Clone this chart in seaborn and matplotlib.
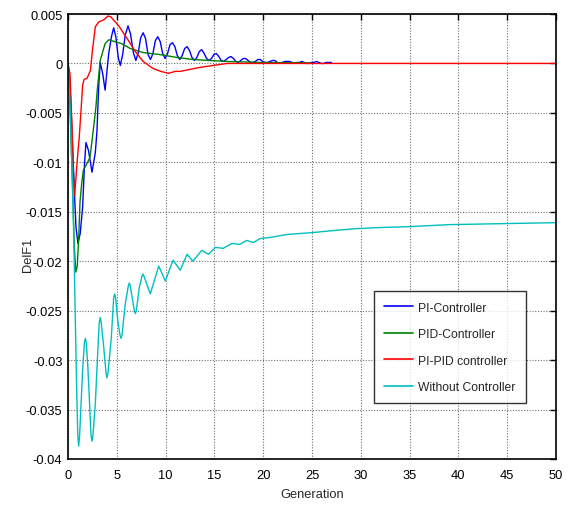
import matplotlib
matplotlib.use("Agg")
import matplotlib.pyplot as plt
import matplotlib.ticker as mticker
import seaborn as sns
import pandas as pd

# PI-Controller response
pi_x = [0, 0.2, 0.4, 0.68, 0.82, 1.02, 1.25, 1.5, 1.7, 1.84, 2.1, 2.46, 2.8, 2.97,
        3.14, 3.3, 3.55, 3.8, 4.17, 4.45, 4.68, 4.9, 5.15, 5.36, 5.6, 5.87, 6.15, 6.4,
        6.7, 6.95, 7.2, 7.45, 7.7, 7.95, 8.2, 8.45, 8.7, 8.95, 9.2, 9.45,
        9.7, 9.95, 10.2, 10.45, 10.7, 10.95, 11.2, 11.45, 11.7, 11.95, 12.2, 12.45,
        12.7, 12.95, 13.2, 13.45, 13.7, 13.95, 14.2, 14.45, 14.7, 14.95, 15.2, 15.45,
        15.7, 15.95, 16.2, 16.45, 16.7, 16.95, 17.2, 17.45, 17.7, 17.95, 18.2, 18.45,
        18.7, 18.95, 19.2, 19.45, 19.7, 19.95, 20.2, 20.45, 20.7, 20.95, 21.2, 21.45,
        21.7, 21.95, 22.2, 22.45, 22.7, 22.95, 23.2, 23.45, 23.7, 23.95, 24.2, 24.45,
        24.7, 24.95, 25.2, 25.45, 25.7, 25.95, 26.2, 26.45, 26.7, 27.0]
pi_y = [0, -0.002, -0.0068, -0.0135, -0.0166, -0.0182, -0.0172, -0.0145, -0.010, -0.008, -0.0088, -0.011, -0.009, -0.0068,
        -0.0024, 0.0001, -0.001, -0.0027, 0.001, 0.0027, 0.0036, 0.0027, 0.0006, -0.0002, 0.0009, 0.0029, 0.0038, 0.0030,
        0.0011, 0.0003, 0.0011, 0.0026, 0.0031, 0.0025, 0.0009, 0.0004, 0.0010, 0.0023, 0.0027, 0.0022,
        0.0010, 0.0005, 0.0010, 0.0019, 0.0021, 0.0017, 0.0008, 0.0004, 0.0008, 0.0015, 0.0017, 0.0013,
        0.0006, 0.0003, 0.0006, 0.0012, 0.0014, 0.0010, 0.0005, 0.0003, 0.0005, 0.0009, 0.0010, 0.0007,
        0.0003, 0.0002, 0.0004, 0.0006, 0.0007, 0.0005, 0.0002, 0.0001, 0.0003, 0.0005, 0.0005, 0.0003,
        0.0001, 0.0001, 0.0002, 0.0004, 0.0004, 0.0002, 0.0001, 0.0001, 0.0002, 0.0003, 0.0003, 0.0001,
        0.0, 0.0001, 0.0002, 0.0002, 0.0002, 0.0001, 0.0, 0.0001, 0.0001, 0.0002, 0.0001, 0.0,
        0.0, 0.0001, 0.0001, 0.0002, 0.0001, 0.0, 0.0, 0.0001, 0.0001, 0.0001]

# PID-Controller response
pid_x = [0, 0.2, 0.45, 0.65, 0.8, 0.95, 1.1, 1.23, 1.4, 1.57, 1.9, 2.25, 2.5, 2.7, 2.85, 3.0,
         3.3, 3.8, 4.2, 4.8, 5.5, 6.4, 7.7, 9.4, 11.2, 12.8, 14.5, 16.3, 18.0, 19.7, 22.0, 24.8]
pid_y = [0, -0.004, -0.012, -0.0186, -0.0211, -0.0205, -0.0175, -0.0140, -0.0122, -0.0108, -0.0102, -0.0095, -0.0075, -0.0058, -0.0045, -0.0027,
         0.0003, 0.0020, 0.0024, 0.0022, 0.0020, 0.0015, 0.0011, 0.0009, 0.0006, 0.0004, 0.0003, 0.0002, 0.00015, 0.0001, 0.00008, 0.00005]

# PI-PID controller response
pipid_x = [0, 0.2, 0.4, 0.55, 0.68, 0.92, 1.15, 1.35, 1.5, 1.65, 1.95, 2.3, 2.5, 2.8, 3.15,
           3.65, 4.1, 4.4, 5.2, 6.2, 6.9, 7.7, 8.7, 9.5, 10.3, 11.0, 11.5, 12.5, 13.5, 14.9, 16.3, 50]
pipid_y = [0, -0.001, -0.006, -0.011, -0.0134, -0.0101, -0.0075, -0.0045, -0.0022, -0.0016, -0.0015, -0.0007, 0.0013, 0.0037, 0.0042,
           0.0044, 0.0048, 0.0047, 0.0038, 0.0023, 0.0012, 0.0002, -0.0005, -0.0008, -0.0010, -0.0008, -0.0008, -0.0006, -0.0004, -0.0002, 0.0, 0.0]

# Response without controller
none_x = [0, 0.2, 0.45, 0.6, 0.75, 0.92, 1.0, 1.09, 1.18, 1.5, 1.68, 1.78, 1.88, 2.05, 2.36, 2.46, 2.56, 2.8, 3.07,
          3.2, 3.3, 3.4, 3.66, 3.9, 4.0, 4.1, 4.44, 4.68, 4.78, 4.88, 5.1, 5.33, 5.43, 5.53, 5.87, 6.18, 6.28, 6.38,
          6.63, 6.8, 6.9, 7.0, 7.3, 7.58, 7.68, 7.78,
          8.43, 9.3, 9.97, 10.76, 11.5, 12.2, 12.8, 13.7, 14.4, 15.1, 15.9, 16.8,
          17.6, 18.3, 19.0, 19.7, 20.7, 22.4, 25.1, 27.2, 29.6, 31.8, 35.0, 39.1, 44.5, 50.0]
none_y = [0, -0.004, -0.012, -0.018, -0.026, -0.0344, -0.0375, -0.0387, -0.0378, -0.031, -0.0282, -0.0278, -0.0283, -0.031, -0.0376, -0.0382, -0.0376, -0.0344, -0.0287,
          -0.0262, -0.0257, -0.0262, -0.0287, -0.0313, -0.0318, -0.0313, -0.0277, -0.0237, -0.0233, -0.0237, -0.026, -0.0275, -0.0278, -0.0275, -0.0243, -0.0225, -0.0222, -0.0225,
          -0.024, -0.025, -0.0253, -0.025, -0.0227, -0.0215, -0.0213, -0.0215,
          -0.0233, -0.0205, -0.022, -0.0199, -0.0209, -0.0193, -0.0200, -0.0189, -0.0193, -0.0186, -0.0187, -0.0182,
          -0.0183, -0.0179, -0.0181, -0.0177, -0.0176, -0.0173, -0.0171, -0.0169, -0.0167, -0.0166, -0.0165, -0.0163, -0.0162, -0.0161]

series_names = ["PI-Controller", "PID-Controller", "PI-PID controller", "Without Controller"]
series_colors = ["#0000ff", "#008000", "#ff0000", "#00bfbf"]
x_ticks = [0, 5, 10, 15, 20, 25, 30, 35, 40, 45, 50]
y_ticks = [-0.04, -0.035, -0.03, -0.025, -0.02, -0.015, -0.01, -0.005, 0, 0.005]

frames = []
for name, xs, ys in zip(series_names,
                        [pi_x, pid_x, pipid_x, none_x],
                        [pi_y, pid_y, pipid_y, none_y]):
    frames.append(pd.DataFrame({"Generation": xs, "DelF1": ys, "series": name}))
data = pd.concat(frames, ignore_index=True)

sns.set_style("white")
plt.rcParams["font.family"] = ["Liberation Sans", "DejaVu Sans"]
plt.rcParams["axes.unicode_minus"] = False
fs = 9.3

fig = plt.figure(figsize=(5.68, 5.10), dpi=100)
ax = fig.add_axes([68 / 568, 1 - 460 / 510, 488 / 568, 445 / 510])

sns.lineplot(data=data, x="Generation", y="DelF1", hue="series",
             hue_order=series_names, palette=series_colors,
             sort=False, estimator=None, linewidth=1.0, ax=ax)

ax.set_xlim(0, 50)
ax.set_ylim(-0.04, 0.005)
ax.set_xticks(x_ticks)
ax.set_yticks(y_ticks)
ax.xaxis.set_major_formatter(mticker.FuncFormatter(lambda v, p: f"{v:g}"))
ax.yaxis.set_major_formatter(mticker.FuncFormatter(lambda v, p: "0" if abs(v) < 1e-12 else f"{v:g}"))
ax.tick_params(direction="in", length=4, width=1, top=True, right=True,
               labelsize=fs, colors="black")
ax.tick_params(axis="x", pad=7)
ax.tick_params(axis="y", pad=4)
ax.grid(True, linestyle=(0, (1, 1.5)), color="#6e6e6e", linewidth=0.8)
for s in ax.spines.values():
    s.set_visible(True)
    s.set_color("black")
    s.set_linewidth(1.2)

ax.set_xlabel("Generation", fontsize=fs)
ax.set_ylabel("DelF1", fontsize=fs)
ax.xaxis.set_label_coords(0.5, -0.066)
ax.yaxis.set_label_coords(-0.07, 0.46)

handles, labels = ax.get_legend_handles_labels()
leg = ax.legend(handles, labels, loc="upper left", bbox_to_anchor=(0.627, 0.377),
                frameon=True, fancybox=False, edgecolor="black", fontsize=8.7,
                handlelength=2.4, borderpad=0.85, labelspacing=1.2, handletextpad=0.4,
                borderaxespad=0)
leg.get_frame().set_linewidth(1.0)
for line in leg.get_lines():
    line.set_linewidth(1.2)

fig.savefig("out.png", dpi=100, facecolor="white")
